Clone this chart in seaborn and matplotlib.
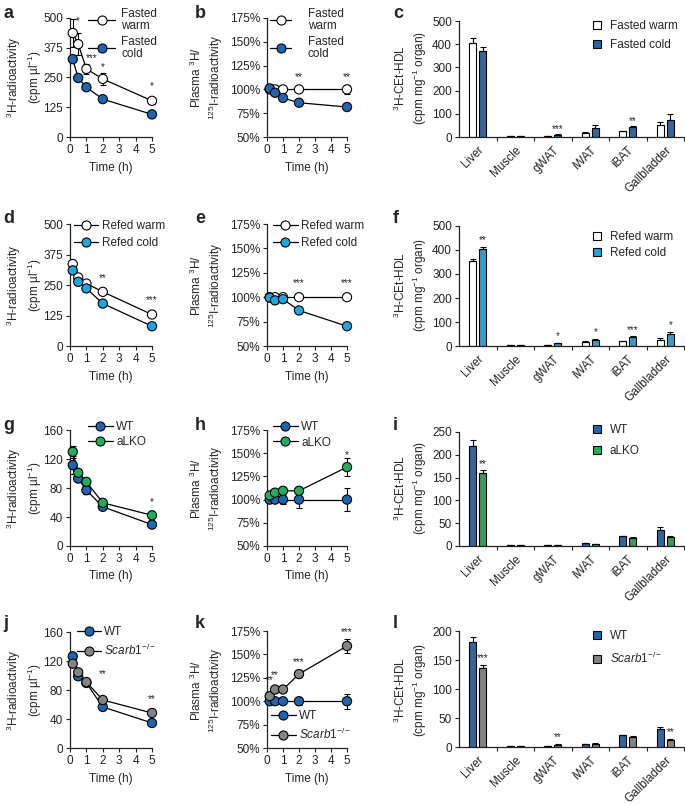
import numpy as np
import pandas as pd
import matplotlib
matplotlib.use('Agg')
import matplotlib.pyplot as plt
import seaborn as sns
from matplotlib.lines import Line2D
from matplotlib.patches import Patch

sns.set_style('ticks')
plt.rcParams['font.family'] = ['Liberation Sans', 'DejaVu Sans']
plt.rcParams['mathtext.fontset'] = 'custom'
plt.rcParams['mathtext.rm'] = 'Liberation Sans'
plt.rcParams['mathtext.it'] = 'Liberation Sans:italic'
plt.rcParams['mathtext.bf'] = 'Liberation Sans:bold'
plt.rcParams['axes.edgecolor'] = '#222222'
plt.rcParams['xtick.color'] = '#222222'
plt.rcParams['ytick.color'] = '#222222'

# ---------------- data ----------------
time = [0.167, 0.5, 1, 2, 5]
organs = ['Liver', 'Muscle', 'gWAT', 'iWAT', 'iBAT', 'Gallbladder']

a_warm = [437, 390, 286, 244, 152]
a_warm_err = [60, 45, 20, 25, 12]
a_cold = [327, 248, 209, 159, 95]
a_cold_err = [10, 8, 6, 6, 5]

b_warm = [100, 100, 100, 100, 100]
b_warm_err = [2, 2, 2, 3, 5]
b_cold = [101, 96.5, 91, 86, 81.5]
b_cold_err = [2, 2, 2, 2, 2]

c_warm = [405, 5, 4, 18, 25, 50]
c_warm_err = [20, 1, 1, 3, 3, 15]
c_cold = [369, 4, 9, 40, 42, 72]
c_cold_err = [18, 1, 2, 12, 4, 28]

d_warm = [336, 281, 256, 222, 129]
d_warm_err = [8, 6, 5, 6, 5]
d_cold = [310, 263, 236, 174, 81]
d_cold_err = [6, 6, 5, 5, 4]

e_warm = [100, 100, 100, 100, 100]
e_warm_err = [2, 2, 2, 2, 2]
e_cold = [99.5, 96.7, 98, 86.4, 70.3]
e_cold_err = [2, 2, 2, 2, 2]

f_warm = [356, 4, 4, 17, 20, 27]
f_warm_err = [8, 1, 1, 2, 2, 5]
f_cold = [406, 4, 12, 27, 37, 52]
f_cold_err = [8, 1, 2, 3, 3, 8]

g_wt = [111.6, 93, 77, 54, 29.5]
g_wt_err = [12, 5, 5, 3, 3]
g_ko = [130, 101, 88.5, 59.5, 42.4]
g_ko_err = [8, 4, 4, 4, 3]

h_wt = [100, 100, 100, 100, 100]
h_wt_err = [2, 2, 5, 9, 12]
h_ko = [104.5, 107.5, 109.5, 109.5, 135]
h_ko_err = [3, 3, 3, 4, 10]

i_wt = [220, 2, 2, 6, 21, 35]
i_wt_err = [13, 0.5, 0.5, 1, 2, 6]
i_ko = [159, 2, 2, 4, 17, 20]
i_ko_err = [8, 0.5, 0.5, 1, 2, 3]

j_wt = [126.4, 98.9, 89.7, 56.6, 34.5]
j_wt_err = [4, 3, 3, 3, 3]
j_ko = [116.3, 104.4, 91, 66.2, 48.3]
j_ko_err = [5, 4, 3, 3, 3]

k_wt = [100, 100, 100, 100, 100]
k_wt_err = [2, 2, 2, 4, 8]
k_ko = [105.4, 112.5, 112.5, 129, 159]
k_ko_err = [3, 3, 3, 3, 7]

l_wt = [181, 2, 2, 5, 20, 31]
l_wt_err = [8, 0.5, 0.5, 0.5, 1, 4]
l_ko = [136.8, 2, 4, 6, 18, 12]
l_ko_err = [5, 0.5, 0.5, 0.5, 1, 2]

# significance marks: (x, y, text)
a_stars = [(0.5, 468, '*'), (1.3, 312, '***'), (2, 272, '*'), (5, 192, '*')]
b_stars = [(2, 108, '**'), (5, 108, '**')]
c_stars = [(2, 14, '***'), (4, 48, '**')]
d_stars = [(2, 258, '**'), (5, 168, '***')]
e_stars = [(2, 109, '***'), (5, 109, '***')]
f_stars = [(0, 420, '**'), (2, 22, '*'), (3, 37, '*'), (4, 47, '***'), (5, 65, '*')]
g_stars = [(5, 54, '*')]
h_stars = [(5, 143, '*')]
i_stars = [(0, 168, '**')]
j_stars = [(2, 95, '**'), (5, 60, '**')]
k_stars = [(0.167, 117, '**'), (0.5, 123, '**'), (2, 136, '***'), (5, 168, '***')]
l_stars = [(0, 145, '***'), (2, 8, '**'), (5, 17, '**')]

WHITE = 'white'
DBLUE = '#1f66b0'
LBLUE = '#1ea6e0'
GREEN = '#22ad5c'
GREY = '#848484'

W, H = 685, 805
fig = plt.figure(figsize=(6.85, 8.05), dpi=100)
FS = 8.5


def box(l, t, r, b):
    return fig.add_axes([l / W, 1 - b / H, (r - l) / W, (b - t) / H])


def ptext(x, y, s, **kw):
    fig.text(x / W, 1 - y / H, s, **kw)


def style_axis(ax):
    sns.despine(ax=ax)
    ax.tick_params(axis='both', length=3, width=0.8, labelsize=FS, pad=2)
    for sp in ax.spines.values():
        sp.set_linewidth(0.9)


def line_panel(ax, series, ylim, yticks, pct, stars, leg_xy, leg_kw):
    rows = []
    for s in series:
        for t, v, e in zip(time, s[1], s[2]):
            rows.append({'time': t, 'value': v, 'err': e, 'group': s[0]})
    df = pd.DataFrame(rows)
    names = [s[0] for s in series]
    cols = {s[0]: s[3] for s in series}
    labels = [s[4] if len(s) > 4 else s[0] for s in series]
    sns.lineplot(data=df, x='time', y='value', hue='group', hue_order=names,
                 palette={n: 'black' for n in names}, linewidth=0.9,
                 legend=False, ax=ax, zorder=2)
    for name in names:
        sub = df[df.group == name]
        ax.errorbar(sub.time, sub.value, yerr=sub.err, fmt='none', ecolor='black',
                    elinewidth=0.8, capsize=2, capthick=0.8, zorder=2, clip_on=False)
    sns.scatterplot(data=df, x='time', y='value', hue='group', hue_order=names,
                    palette=cols, s=44, edgecolor='black', linewidth=0.8,
                    legend=False, ax=ax, zorder=3, clip_on=False)
    ax.set_xlim(0, 5)
    ax.set_ylim(*ylim)
    ax.set_xticks([0, 1, 2, 3, 4, 5])
    ax.set_yticks(yticks)
    if pct:
        ax.set_yticklabels([f'{v}%' for v in yticks])
    ax.set_xlabel('Time (h)', fontsize=FS, labelpad=4)
    ax.set_ylabel('')
    style_axis(ax)
    for x, y, s in stars:
        ax.text(x, y, s, fontsize=7, ha='center', va='bottom')
    handles = [Line2D([], [], color='black', lw=0.9, marker='o', markersize=6.5,
                      markerfacecolor=s[3], markeredgecolor='black', markeredgewidth=0.8)
               for s in series]
    leg = ax.legend(handles, labels,
                    loc='upper left', bbox_to_anchor=(leg_xy[0] / W, 1 - leg_xy[1] / H),
                    bbox_transform=fig.transFigure, frameon=False, borderaxespad=0,
                    borderpad=0, fontsize=FS, **leg_kw)
    for t in leg.get_texts():
        t.set_linespacing(1.0)


def bar_panel(ax, warm, warm_err, cold, cold_err, names, cols, ylim, yticks, stars,
              leg_xy, labelspacing):
    df = pd.DataFrame({'organ': organs * 2,
                       'value': warm + cold,
                       'group': [names[0]] * 6 + [names[1]] * 6})
    sns.barplot(data=df, x='organ', y='value', hue='group', hue_order=names,
                palette={names[0]: cols[0], names[1]: cols[1]}, width=0.54, gap=0.28,
                edgecolor='black', linewidth=0.8, errorbar=None, legend=False, ax=ax)
    for cont, err in zip(ax.containers, [warm_err, cold_err]):
        xs = [p.get_x() + p.get_width() / 2 for p in cont]
        ys = [p.get_height() for p in cont]
        ax.errorbar(xs, ys, yerr=[np.zeros(len(err)), err], fmt='none', ecolor='black',
                    elinewidth=0.8, capsize=2, capthick=0.8, zorder=3)
    cold_x = [p.get_x() + p.get_width() / 2 for p in ax.containers[1]]
    for gi, y, s in stars:
        ax.text(cold_x[gi], y, s, fontsize=7, ha='center', va='bottom')
    ax.set_xlim(-0.5, 5.5)
    ax.set_ylim(*ylim)
    ax.set_yticks(yticks)
    ax.set_xlabel('')
    ax.set_ylabel('')
    style_axis(ax)
    ax.set_xticks(range(6))
    ax.set_xticklabels(organs, rotation=45, ha='right', rotation_mode='anchor', fontsize=FS)
    ax.tick_params(axis='x', which='major', length=0, pad=5)
    ax.set_xticks([0.5, 1.5, 2.5, 3.5, 4.5, 5.5], minor=True)
    ax.tick_params(axis='x', which='minor', length=3, width=0.8)
    handles = [Patch(facecolor=c, edgecolor='black', linewidth=0.8) for c in cols]
    ax.legend(handles, names, loc='upper left',
              bbox_to_anchor=(leg_xy[0] / W, 1 - leg_xy[1] / H),
              bbox_transform=fig.transFigure, frameon=False, borderaxespad=0,
              borderpad=0, fontsize=FS, handlelength=0.7, handleheight=0.7,
              handletextpad=0.7, labelspacing=labelspacing)


ylab_line = '$^{3}$H-radioactivity\n(cpm µl$^{-1}$)'
ylab_ratio = 'Plasma $^{3}$H/\n$^{125}$I-radioactivity'
ylab_bar = '$^{3}$H-CEt-HDL\n(cpm mg$^{-1}$ organ)'
scarb = r'$\mathit{Scarb1}^{-/-}$'

rows_px = [(18, 137), (224, 346), (430, 546), (632, 748)]
letters_y = [18, 223, 430, 628]

# row 1
ax = box(70, 18, 152, 137)
line_panel(ax, [('Fasted warm', a_warm, a_warm_err, WHITE, 'Fasted\nwarm'),
                ('Fasted cold', a_cold, a_cold_err, DBLUE, 'Fasted\ncold')],
           (0, 500), [0, 125, 250, 375, 500], False, a_stars, (88, 8),
           dict(handlelength=2.3, handletextpad=0.5, labelspacing=0.35))
ax = box(267, 18, 347, 137)
line_panel(ax, [('Fasted warm', b_warm, b_warm_err, WHITE, 'Fasted\nwarm'),
                ('Fasted cold', b_cold, b_cold_err, DBLUE, 'Fasted\ncold')],
           (50, 175), [50, 75, 100, 125, 150, 175], True, b_stars, (270, 8),
           dict(handlelength=1.8, handletextpad=1.4, labelspacing=0.35))
ax = box(459, 21, 684, 137)
bar_panel(ax, c_warm, c_warm_err, c_cold, c_cold_err, ['Fasted warm', 'Fasted cold'],
          [WHITE, DBLUE], (0, 500), [0, 100, 200, 300, 400, 500], c_stars,
          (593, 20), 0.6)

# row 2
ax = box(70, 224, 152, 346)
line_panel(ax, [('Refed warm', d_warm, d_warm_err, WHITE),
                ('Refed cold', d_cold, d_cold_err, LBLUE)],
           (0, 500), [0, 125, 250, 375, 500], False, d_stars, (74, 220),
           dict(handlelength=2.0, handletextpad=0.4, labelspacing=0.45))
ax = box(267, 224, 347, 346)
line_panel(ax, [('Refed warm', e_warm, e_warm_err, WHITE),
                ('Refed cold', e_cold, e_cold_err, LBLUE)],
           (50, 175), [50, 75, 100, 125, 150, 175], True, e_stars, (273, 220),
           dict(handlelength=2.1, handletextpad=0.3, labelspacing=0.45))
ax = box(459, 226, 684, 346)
bar_panel(ax, f_warm, f_warm_err, f_cold, f_cold_err, ['Refed warm', 'Refed cold'],
          [WHITE, LBLUE], (0, 500), [0, 100, 200, 300, 400, 500], f_stars,
          (593, 231), 0.35)

# row 3
ax = box(70, 430, 152, 546)
line_panel(ax, [('WT', g_wt, g_wt_err, DBLUE), ('aLKO', g_ko, g_ko_err, GREEN)],
           (0, 160), [0, 40, 80, 120, 160], False, g_stars, (88, 421),
           dict(handlelength=2.1, handletextpad=0.3, labelspacing=0.25))
ax = box(267, 430, 347, 546)
line_panel(ax, [('WT', h_wt, h_wt_err, DBLUE), ('aLKO', h_ko, h_ko_err, GREEN)],
           (50, 175), [50, 75, 100, 125, 150, 175], True, h_stars, (273, 421),
           dict(handlelength=2.1, handletextpad=0.3, labelspacing=0.3))
ax = box(459, 432, 684, 546)
bar_panel(ax, i_wt, i_wt_err, i_ko, i_ko_err, ['WT', 'aLKO'], [DBLUE, GREEN],
          (0, 250), [0, 50, 100, 150, 200, 250], i_stars, (593, 424), 0.75)

# row 4
ax = box(70, 632, 152, 748)
line_panel(ax, [('WT', j_wt, j_wt_err, DBLUE), ('Scarb1', j_ko, j_ko_err, GREY, scarb)],
           (0, 160), [0, 40, 80, 120, 160], False, j_stars, (77, 626),
           dict(handlelength=2.0, handletextpad=0.3, labelspacing=0.4))
ax = box(267, 631, 347, 748)
line_panel(ax, [('WT', k_wt, k_wt_err, DBLUE, 'WT'), ('Scarb1', k_ko, k_ko_err, GREY, scarb)],
           (50, 175), [50, 75, 100, 125, 150, 175], True, k_stars, (271, 710),
           dict(handlelength=2.1, handletextpad=0.3, labelspacing=0.4))
ax = box(459, 631, 684, 747)
bar_panel(ax, l_wt, l_wt_err, l_ko, l_ko_err, ['WT', scarb], [DBLUE, GREY],
          (0, 200), [0, 50, 100, 150, 200], l_stars, (593, 630), 0.75)

# y labels and panel letters
for (top, bot), ly, trio in zip(rows_px, letters_y, ['abc', 'def', 'ghi', 'jkl']):
    yc = (top + bot) / 2
    ptext(24, yc, ylab_line, rotation=90, ha='center', va='center', fontsize=FS,
          multialignment='center')
    ptext(207, yc, ylab_ratio, rotation=90, ha='center', va='center', fontsize=FS,
          multialignment='center')
    ptext(411, yc, ylab_bar, rotation=90, ha='center', va='center', fontsize=FS,
          multialignment='center')
    for x, letter in zip([3, 195, 393], trio):
        ptext(x, ly, letter, fontsize=13, fontweight='bold', ha='left', va='baseline')

fig.savefig('out.png', dpi=100)
